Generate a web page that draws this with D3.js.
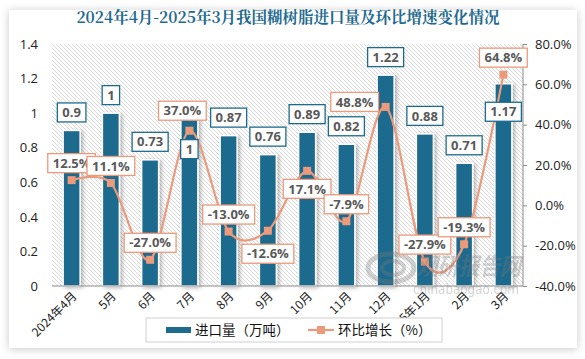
<!DOCTYPE html>
<html>
<head>
<meta charset="utf-8">
<script src="https://cdn.jsdelivr.net/npm/d3@7/dist/d3.min.js"></script>
<style>
  body { margin: 0; background: #fff; }
  svg { display: block; font-family: "Noto Sans CJK SC", "Noto Sans", sans-serif; }
</style>
</head>
<body>
<svg id="chart" width="585" height="359"></svg>
<script>
// data
const months = ['2024年4月', '5月', '6月', '7月', '8月', '9月', '10月', '11月', '12月', '2025年1月', '2月', '3月'];
const imports = [0.9, 1, 0.73, 1, 0.87, 0.76, 0.89, 0.82, 1.22, 0.88, 0.71, 1.17];
const growth = [12.5, 11.1, -27.0, 37.0, -13.0, -12.6, 17.1, -7.9, 48.8, -27.9, -19.3, 64.8];
const leftTicks = [0, 0.2, 0.4, 0.6, 0.8, 1, 1.2, 1.4];
const rightTicks = [-40, -20, 0, 20, 40, 60, 80];

const title = '2024年4月-2025年3月我国糊树脂进口量及环比增速变化情况';
const barColor = '#1c6b8e';
const lineColor = '#eb9a7b';
const textGray = '#595959';

// label nudges (px) where the source moves a label off its default spot
const barLabelDy = { 3: 36, 11: 28 };
const lineLabelShift = { 3: [-7, -20], 5: [0, 23], 6: [0, 18], 8: [-31, -5] };

const svg = d3.select('#chart');
const defs = svg.append('defs');

let shadow = defs.append('filter').attr('id', 'panelShadow')
    .attr('x', '-5%').attr('y', '-5%').attr('width', '110%').attr('height', '110%');
shadow.append('feDropShadow').attr('dx', 0).attr('dy', 1).attr('stdDeviation', 4)
    .attr('flood-color', '#000').attr('flood-opacity', 0.22);

let barShadow = defs.append('filter').attr('id', 'barShadow')
    .attr('x', '-30%').attr('y', '-10%').attr('width', '170%').attr('height', '130%');
barShadow.append('feDropShadow').attr('dx', 2).attr('dy', 1).attr('stdDeviation', 2)
    .attr('flood-color', '#000').attr('flood-opacity', 0.3);

let hatch = defs.append('pattern').attr('id', 'hatch')
    .attr('patternUnits', 'userSpaceOnUse').attr('width', 4).attr('height', 4);
hatch.append('rect').attr('width', 4).attr('height', 4).attr('fill', '#fff');
hatch.append('path').attr('d', 'M-1,-1 L5,5 M-1,3 L1,5 M3,-1 L5,1')
    .attr('stroke', '#cfcfcf').attr('stroke-width', 0.8);

// white panel
svg.append('rect').attr('x', 9).attr('y', 10).attr('width', 568).attr('height', 338)
    .attr('fill', '#fff').attr('filter', 'url(#panelShadow)');

svg.append('text').attr('x', 288).attr('y', 23)
    .attr('text-anchor', 'middle')
    .attr('font-size', 15.5).attr('font-weight', 'bold')
    .attr('fill', '#1f6a8e')
    .attr('font-family', '"Noto Serif CJK SC", "Noto Sans CJK SC", serif')
    .text(title);

const plot = { left: 52, right: 523, top: 44, bottom: 286 };

const x = d3.scaleBand().domain(months).range([plot.left, plot.right]).paddingInner(0).paddingOuter(0);
const yL = d3.scaleLinear().domain([0, 1.4]).range([plot.bottom, plot.top]);
const yR = d3.scaleLinear().domain([-40, 80]).range([plot.bottom, plot.top]);

svg.append('rect').attr('x', plot.left).attr('y', plot.top)
    .attr('width', plot.right - plot.left).attr('height', plot.bottom - plot.top)
    .attr('fill', 'url(#hatch)');

// bars
const bw = 17;
svg.append('g').selectAll('rect').data(imports).join('rect')
    .attr('x', (d, i) => x(months[i]) + x.bandwidth() / 2 - bw / 2)
    .attr('y', d => yL(d))
    .attr('width', bw)
    .attr('height', d => yL(0) - yL(d))
    .attr('fill', barColor)
    .attr('stroke', '#fff').attr('stroke-width', 1.5)
    .attr('filter', 'url(#barShadow)');

// axes
svg.append('line').attr('x1', plot.left).attr('x2', plot.right)
    .attr('y1', plot.bottom).attr('y2', plot.bottom)
    .attr('stroke', '#8c8c8c').attr('stroke-width', 1);

let leftAxis = svg.append('g').attr('transform', `translate(${plot.left},0)`)
    .call(d3.axisLeft(yL).tickValues(leftTicks).tickSize(0).tickPadding(14)
        .tickFormat(d => d3.format('~g')(d)));
leftAxis.select('.domain').remove();
leftAxis.selectAll('text').attr('font-size', 13).attr('fill', '#222')
    .attr('font-family', '"Open Sans", "Noto Sans", sans-serif');

let rightAxis = svg.append('g').attr('transform', `translate(${plot.right},0)`)
    .call(d3.axisRight(yR).tickValues(rightTicks).tickSize(4).tickPadding(8)
        .tickFormat(d => d.toFixed(1) + '%'));
rightAxis.select('.domain').attr('stroke', '#8c8c8c').attr('d', `M0,${plot.top}V${plot.bottom}`);
rightAxis.selectAll('.tick line').attr('stroke', '#8c8c8c');
rightAxis.selectAll('text').attr('font-size', 13).attr('fill', '#222')
    .attr('font-family', '"Open Sans", "Noto Sans", sans-serif');

// x labels
svg.append('g').selectAll('text').data(months).join('text')
    .attr('transform', d => `translate(${x(d) + x.bandwidth() / 2 + 3},${plot.bottom + 8}) rotate(-45)`)
    .attr('text-anchor', 'end')
    .attr('dy', '0.35em')
    .attr('font-size', 12).attr('fill', '#222')
    .text(d => d);

// line
const line = d3.line()
    .x((d, i) => x(months[i]) + x.bandwidth() / 2)
    .y(d => yR(d))
    .curve(d3.curveCardinal.tension(0.1));

svg.append('path').datum(growth)
    .attr('d', line)
    .attr('fill', 'none').attr('stroke', lineColor).attr('stroke-width', 2.2);

svg.append('g').selectAll('rect').data(growth).join('rect')
    .attr('x', (d, i) => x(months[i]) + x.bandwidth() / 2 - 4)
    .attr('y', d => yR(d) - 4)
    .attr('width', 8).attr('height', 8)
    .attr('fill', lineColor);

// watermark, drawn over the marks
let wm = svg.append('g').attr('opacity', 0.32).attr('fill', '#7a7a7a');
wm.append('ellipse').attr('cx', 391).attr('cy', 268).attr('rx', 23).attr('ry', 14)
    .attr('fill', 'none').attr('stroke', '#7a7a7a').attr('stroke-width', 5);
wm.append('ellipse').attr('cx', 393).attr('cy', 268).attr('rx', 11).attr('ry', 7)
    .attr('fill', 'none').attr('stroke', '#7a7a7a').attr('stroke-width', 4);
wm.append('text').attr('x', 417).attr('y', 275).attr('font-size', 24).attr('font-weight', 'bold')
    .attr('font-style', 'italic').attr('textLength', 104).attr('lengthAdjust', 'spacingAndGlyphs')
    .text('观研报告网');
wm.append('text').attr('x', 413).attr('y', 294).attr('font-size', 14)
    .attr('textLength', 106).attr('lengthAdjust', 'spacingAndGlyphs')
    .attr('font-family', '"DejaVu Sans", sans-serif').text('chinabaogao.com');

// boxed data labels
function boxLabel(g, cx, cy, text, border) {
    let t = g.append('text').attr('x', cx).attr('y', cy).attr('dy', '0.36em')
        .attr('text-anchor', 'middle').attr('font-size', 13).attr('font-weight', 'bold')
        .attr('fill', textGray).attr('font-family', '"Open Sans", "Noto Sans", sans-serif')
        .text(text);
    let w = t.node().getComputedTextLength() + 10;
    g.insert('rect', () => t.node())
        .attr('x', cx - w / 2).attr('y', cy - 9.5)
        .attr('width', w).attr('height', 19)
        .attr('fill', '#fff').attr('stroke', border).attr('stroke-width', 1.3);
}

let barLabels = svg.append('g');
imports.forEach((v, i) => {
    let cx = x(months[i]) + x.bandwidth() / 2;
    let dy = barLabelDy[i] !== undefined ? barLabelDy[i] : -18;
    boxLabel(barLabels.append('g'), cx, yL(v) + dy, d3.format('~g')(v), barColor);
});

let lineLabels = svg.append('g');
growth.forEach((v, i) => {
    let cx = x(months[i]) + x.bandwidth() / 2;
    let s = lineLabelShift[i] || [0, -17];
    boxLabel(lineLabels.append('g'), cx + s[0], yR(v) + s[1], v.toFixed(1) + '%', lineColor);
});

// legend
let legend = svg.append('g');
legend.append('rect').attr('x', 146).attr('y', 318).attr('width', 296).attr('height', 24)
    .attr('fill', '#fff').attr('stroke', '#d0d0d0');
legend.append('rect').attr('x', 166).attr('y', 327).attr('width', 25).attr('height', 6)
    .attr('fill', barColor);
legend.append('text').attr('x', 195).attr('y', 330).attr('dy', '0.36em')
    .attr('font-size', 13.5).attr('fill', '#111').text('进口量（万吨）');
legend.append('line').attr('x1', 308).attr('x2', 334).attr('y1', 330).attr('y2', 330)
    .attr('stroke', lineColor).attr('stroke-width', 2.2);
legend.append('rect').attr('x', 317).attr('y', 326).attr('width', 8).attr('height', 8)
    .attr('fill', lineColor);
legend.append('text').attr('x', 338).attr('y', 330).attr('dy', '0.36em')
    .attr('font-size', 13.5).attr('fill', '#111').text('环比增长（%）');
</script>
</body>
</html>
